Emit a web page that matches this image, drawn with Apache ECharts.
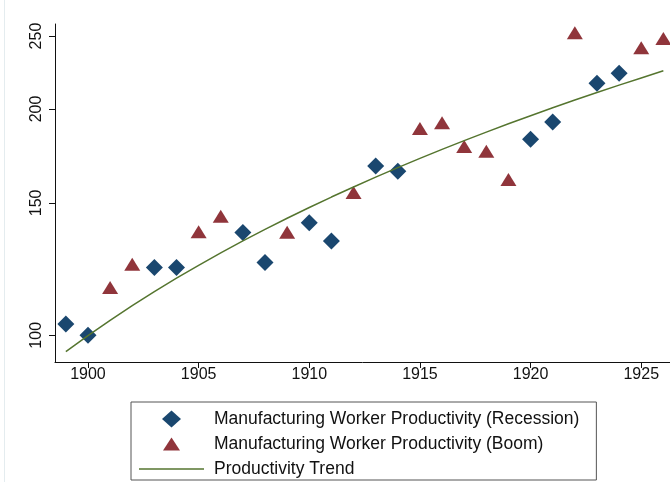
<!DOCTYPE html>
<html>
<head>
<meta charset="utf-8">
<script src="https://cdn.jsdelivr.net/npm/echarts@6/dist/echarts.min.js"></script>
<style>
  html, body { margin: 0; padding: 0; background: #fff; }
  #chart { width: 670px; height: 482px; }
</style>
</head>
<body>
<div id="chart"></div>
<script>
// Manufacturing worker productivity index, split by business-cycle phase
const recessionYears = [1899, 1900, 1903, 1904, 1907, 1908, 1910, 1911, 1913, 1914, 1920, 1921, 1923, 1924];
const recessionValues = [103.5, 100.0, 123.1, 123.1, 137.0, 125.0, 141.2, 133.5, 167.9, 165.2, 182.2, 192.1, 216.3, 223.1];

const boomYears = [1901, 1902, 1905, 1906, 1909, 1912, 1915, 1916, 1917, 1918, 1919, 1922, 1925, 1926];
const boomValues = [115.8, 124.3, 137.3, 144.0, 137.1, 154.8, 188.4, 191.7, 178.2, 175.7, 161.1, 252.5, 241.2, 248.1];

// Fitted trend, one value per year
const trendYears = [1899, 1900, 1901, 1902, 1903, 1904, 1905, 1906, 1907, 1908, 1909, 1910, 1911, 1912,
                    1913, 1914, 1915, 1916, 1917, 1918, 1919, 1920, 1921, 1922, 1923, 1924, 1925, 1926];
const trendValues = [95.1, 99.9, 104.7, 109.5, 114.3, 119.1, 123.9, 128.7, 133.5, 138.3, 143.1, 147.9, 152.7, 157.5,
                     162.3, 167.1, 171.9, 176.7, 181.5, 186.3, 191.1, 195.9, 200.7, 205.5, 210.3, 215.1, 219.9, 224.8];

const xTicks = [1900, 1905, 1910, 1915, 1920, 1925];
const yTicks = [100, 150, 200, 250];

const seriesNames = [
  'Manufacturing Worker Productivity (Recession)',
  'Manufacturing Worker Productivity (Boom)',
  'Productivity Trend'
];

const zip = (xs, ys) => xs.map((x, i) => [x, ys[i]]);

const navy = '#1a476f';
const maroon = '#90353b';
const green = '#55752f';
const font = 'Liberation Sans, Arial, Helvetica, sans-serif';

// Legend keys (path icons keep their aspect ratio inside the key box)
const diamondKey = 'path://M9.5,0 L19,8.5 L9.5,17 L0,8.5 Z';
const triangleKey = 'path://M0,0 M17,17 M0,15 L8.5,2 L17,15 Z';
const lineKey = 'path://M0,0 L65,0 L65,1.5 L0,1.5 Z';

const chart = echarts.init(document.getElementById('chart'), null, { renderer: 'canvas' });

chart.setOption({
  backgroundColor: '#ffffff',
  animation: false,
  graphic: [{
    type: 'line',
    shape: { x1: 4.5, y1: 0, x2: 4.5, y2: 482 },
    style: { stroke: '#e4ecef', lineWidth: 1 },
    silent: true
  }],
  grid: { left: 55, right: 0, top: 24, bottom: 120 },
  xAxis: {
    type: 'value',
    min: 1898.51,
    max: 1926.3,
    axisLine: { show: true, lineStyle: { color: '#111', width: 1 } },
    axisTick: { show: true, length: 6, customValues: xTicks, lineStyle: { color: '#111' } },
    axisLabel: {
      customValues: xTicks,
      margin: 5,
      color: '#111',
      fontFamily: font,
      fontSize: 16,
      formatter: v => String(v)
    },
    splitLine: { show: false }
  },
  yAxis: {
    type: 'log',
    logBase: 10,
    min: 92.15,
    max: 259.4,
    axisLine: { show: true, lineStyle: { color: '#111', width: 1 } },
    axisTick: { show: true, length: 6, customValues: yTicks, lineStyle: { color: '#111' } },
    axisLabel: {
      customValues: yTicks,
      rotate: 90,
      margin: 10,
      color: '#111',
      fontFamily: font,
      fontSize: 16,
      formatter: v => String(Math.round(v))
    },
    splitLine: { show: false },
    minorTick: { show: false }
  },
  legend: {
    orient: 'vertical',
    left: 131,
    top: 402,
    height: 200,
    padding: [8, 17, 2, 8],
    itemWidth: 65,
    itemHeight: 17,
    itemGap: 7,
    borderColor: '#555',
    borderWidth: 1,
    textStyle: {
      fontFamily: font,
      fontSize: 17.5,
      lineHeight: 17,
      color: '#111',
      padding: [0, 0, 0, 5]
    },
    data: [
      { name: seriesNames[0], icon: diamondKey },
      { name: seriesNames[1], icon: triangleKey },
      { name: seriesNames[2], icon: lineKey }
    ]
  },
  series: [
    {
      name: seriesNames[0],
      type: 'scatter',
      symbol: 'diamond',
      symbolSize: 17,
      itemStyle: { color: navy, opacity: 1 },
      data: zip(recessionYears, recessionValues),
      z: 2
    },
    {
      name: seriesNames[1],
      type: 'scatter',
      symbol: 'triangle',
      symbolSize: [16, 13],
      itemStyle: { color: maroon, opacity: 1 },
      data: zip(boomYears, boomValues),
      z: 2
    },
    {
      name: seriesNames[2],
      type: 'line',
      symbol: 'none',
      showSymbol: false,
      lineStyle: { color: green, width: 1.5 },
      itemStyle: { color: green },
      data: zip(trendYears, trendValues),
      z: 3
    }
  ]
});
</script>
</body>
</html>
